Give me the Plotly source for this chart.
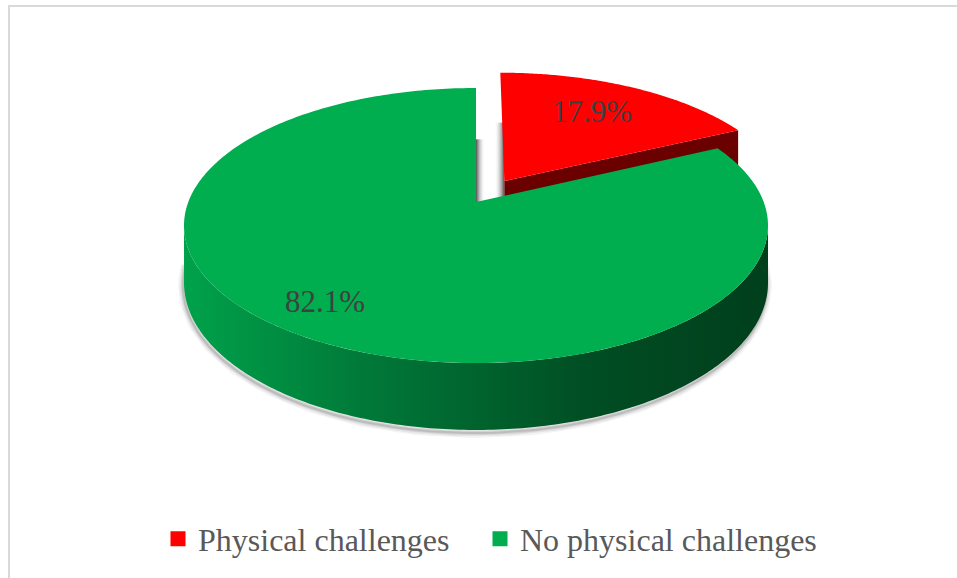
import numpy as np
import plotly.graph_objects as go

# ---------------- data ----------------
categories = ["Physical challenges", "No physical challenges"]
values = [17.9, 82.1]
label_text = ["17.9%", "82.1%"]

# ---------------- style ----------------
top_colors = ["#FF0000", "#00AD4F"]
side_colors = ["#6B0000", "#004A22"]
green_side_scale = [[0, "#00A24B"], [0.3, "#007A39"], [0.7, "#004D23"], [1, "#003F1C"]]
explode = [0.19, 0.0]
label_radius = [0.66, 0.82]
label_shift = [(0, -5), (-8, -6)]
legend_x_px = [158, 480]
W, Hpx = 957, 578

# projection (pixel space) of a tilted 3D disc
CX, CY = 476.0, 202.0
R, S, P = 287.7, 133.5, 0.171
DEPTH = 55.5


def proj(X, Z, h=0.0):
    d = 1 + P * np.asarray(Z)
    return CX + R * np.asarray(X) / d, CY - S * np.asarray(Z) / d + DEPTH * h / d


# angles (degrees, clockwise from 12 o'clock)
total = sum(values)
bounds = np.concatenate([[0], np.cumsum(values) / total * 360.0])

fig = go.Figure()

# slice offsets
offs = []
for i in range(len(values)):
    mid = np.radians((bounds[i] + bounds[i + 1]) / 2)
    offs.append((explode[i] * np.sin(mid), explode[i] * np.cos(mid)))

# silhouette angles of the side wall
sil = np.degrees(np.arccos(-P))

# ---- soft shadow under the pie ----
th = np.radians(np.linspace(sil - 8, 360 - sil + 8, 200))
bx, by = proj(np.sin(th), np.cos(th), 1.0)
for w_, a_ in [(10, 0.06), (7, 0.08), (4, 0.11), (2, 0.14)]:
    fig.add_trace(go.Scatter(x=bx - 1, y=by + 3, mode="lines",
                             line=dict(color=f"rgba(60,60,60,{a_})", width=w_),
                             hoverinfo="skip", showlegend=False))

# ---- shadows inside the gap ----
gtx, gty = proj(0, 1)
ox, oz = offs[0]
rvx, rvy = proj(ox, oz)
rtx, rty = proj(ox, oz + 1)
y_a = gty + 0.45 * (CY - gty)
fig.add_trace(go.Scatter(x=[gtx, gtx + 9, gtx + 9, gtx, gtx], y=[y_a, y_a, CY, CY, y_a],
                         fill="toself", mode="none",
                         fillgradient=dict(type="horizontal",
                                           colorscale=[[0, "rgba(70,70,70,0.95)"], [1, "rgba(255,255,255,0)"]]),
                         hoverinfo="skip", showlegend=False))
y_b = rty + 0.46 * (rvy - rty)
fig.add_trace(go.Scatter(x=[rvx - 10, rvx, rvx, rvx - 10, rvx - 10], y=[y_b, y_b, CY, CY, y_b],
                         fill="toself", mode="none",
                         fillgradient=dict(type="horizontal",
                                           colorscale=[[0, "rgba(255,255,255,0)"], [1, "rgba(70,70,70,0.95)"]]),
                         hoverinfo="skip", showlegend=False))

# ---- red (exploded) slice ----
a0, a1 = np.radians(bounds[0]), np.radians(bounds[1])
px_ = [ox, ox + np.sin(a1), ox + np.sin(a1), ox]
pz_ = [oz, oz + np.cos(a1), oz + np.cos(a1), oz]
ph_ = [0, 0, 1, 1]
fx, fy = proj(np.array(px_), np.array(pz_), np.array(ph_))
fig.add_trace(go.Scatter(x=list(fx) + [fx[0]], y=list(fy) + [fy[0]], fill="toself", mode="none",
                         fillcolor=side_colors[0], hoverinfo="skip", showlegend=False))
th = np.linspace(a0, a1, 120)
tx, ty = proj(np.concatenate([[ox], ox + np.sin(th), [ox]]), np.concatenate([[oz], oz + np.cos(th), [oz]]))
fig.add_trace(go.Scatter(x=tx, y=ty, fill="toself", mode="none", fillcolor=top_colors[0],
                         hoverinfo="skip", showlegend=False))

# ---- green slice ----
b0, b1 = np.radians(bounds[1]), np.radians(bounds[2])
s0, s1 = np.radians(max(bounds[1], sil)), np.radians(min(bounds[2], 360 - sil))
th = np.linspace(s0, s1, 200)
sx_t, sy_t = proj(np.sin(th), np.cos(th), 0.0)
sx_b, sy_b = proj(np.sin(th[::-1]), np.cos(th[::-1]), 1.0)
fig.add_trace(go.Scatter(x=np.concatenate([sx_t, sx_b, sx_t[:1]]), y=np.concatenate([sy_t, sy_b, sy_t[:1]]),
                         fill="toself", mode="none",
                         fillgradient=dict(type="horizontal", colorscale=green_side_scale),
                         hoverinfo="skip", showlegend=False))
th = np.linspace(b0, b1, 300)
gx, gy = proj(np.concatenate([[0], np.sin(th), [0]]), np.concatenate([[0], np.cos(th), [0]]))
fig.add_trace(go.Scatter(x=gx, y=gy, fill="toself", mode="none", fillcolor=top_colors[1],
                         hoverinfo="skip", showlegend=False))

# ---- data labels ----
for i in range(len(values)):
    mid = np.radians((bounds[i] + bounds[i + 1]) / 2)
    lx, ly = proj(offs[i][0] + label_radius[i] * np.sin(mid), offs[i][1] + label_radius[i] * np.cos(mid))
    fig.add_annotation(x=float(lx), y=float(ly), text=label_text[i], showarrow=False,
                       xshift=label_shift[i][0], yshift=-label_shift[i][1],
                       font=dict(family="Liberation Serif", size=31, color="#404040"))

# ---- legend entries (one legend box per entry for exact spacing) ----
legend_names = ["legend", "legend2"]
for i, c in enumerate(categories):
    fig.add_trace(go.Scatter(x=[None], y=[None], mode="markers", name=c, legend=legend_names[i],
                             marker=dict(symbol="square", size=15, color=top_colors[i])))

leg_common = dict(orientation="h", xanchor="left", y=1 - 539 / Hpx, yanchor="middle",
                  font=dict(family="Liberation Serif", size=32, color="#595959"),
                  bgcolor="rgba(0,0,0,0)", itemclick=False, itemdoubleclick=False)

# ---- chart frame (top and left edges) ----
fig.add_shape(type="line", x0=8, x1=W, y0=6, y1=6, line=dict(color="#D9D9D9", width=2))
fig.add_shape(type="line", x0=9, x1=9, y0=6, y1=Hpx, line=dict(color="#D9D9D9", width=2))

fig.update_layout(
    width=W, height=Hpx,
    margin=dict(l=0, r=0, t=0, b=0),
    paper_bgcolor="white", plot_bgcolor="white",
    xaxis=dict(range=[0, W], visible=False, fixedrange=True),
    yaxis=dict(range=[Hpx, 0], visible=False, fixedrange=True),
    showlegend=True,
    legend=dict(x=legend_x_px[0] / W, **leg_common),
    legend2=dict(x=legend_x_px[1] / W, **leg_common),
)

fig.write_html("out.html")
